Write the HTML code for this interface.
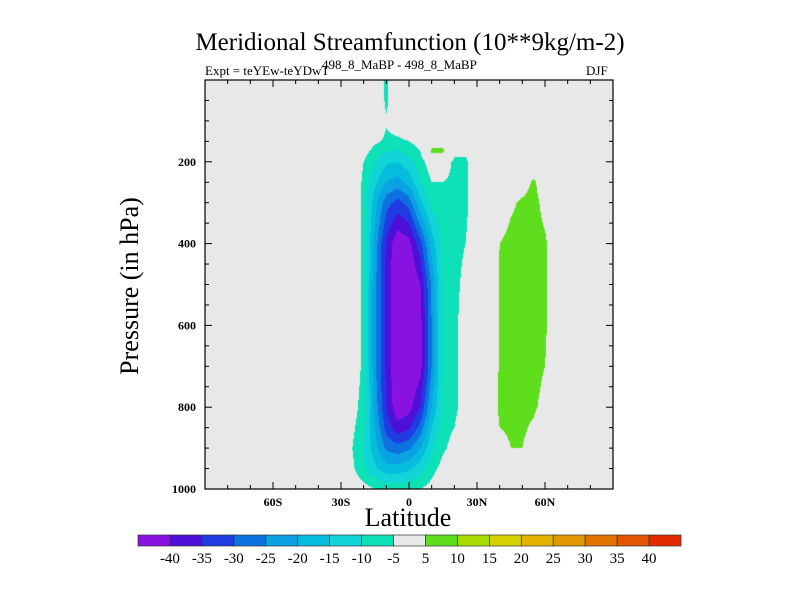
<!DOCTYPE html>
<html><head><meta charset="utf-8"><style>
body{margin:0;background:#fff;}
#wrap{position:relative;width:800px;height:600px;overflow:hidden;font-family:"Liberation Serif",serif;}
.t{position:absolute;white-space:nowrap;color:#000;}
</style></head><body>
<div id="wrap">
<div class="t" style="left:0;width:820px;text-align:center;top:29px;font-size:25px;">Meridional Streamfunction (10**9kg/m-2)</div>
<div class="t" style="left:205px;top:63px;font-size:13px;">Expt = teYEw-teYDwT</div>
<div class="t" style="left:322px;top:57px;font-size:13px;">498_8_MaBP - 498_8_MaBP</div>
<div class="t" style="left:586px;top:63px;font-size:13px;">DJF</div>
<div class="t" style="left:130px;top:286px;font-size:26px;transform:translate(-50%,-50%) rotate(-90deg);">Pressure (in hPa)</div>
<div class="t" style="left:0;width:816px;text-align:center;top:503px;font-size:26px;">Latitude</div>
<canvas id="cv" width="408" height="409" style="position:absolute;left:205px;top:80px;"></canvas>
<svg id="sv" width="800" height="600" style="position:absolute;left:0;top:0;"></svg>
</div>
<script>
const lats=[-30,-25,-20,-15,-10,-5,0,5,10,15,20,25,30,35,40,45,50,55,60,65];
const pressures=[0,50,100,150,175,200,250,300,400,500,600,700,800,850,900,950,1000];
const field=[
[0,0,0,0,-6,0,0,0,0,0,0,0,0,0,0,0,0,0,0,0],
[0,0,0,0,-6,0,0,0,0,0,0,0,0,0,0,0,0,0,0,0],
[0,0,0,0,-4.5,-2,0,0,0,0,0,0,0,0,0,0,0,0,0,0],
[0,0,-1,-4,-6,-6,-5,-3,3,3,0,0,0,0,0,0,0,0,0,0],
[0,0,-3,-7,-10,-11,-8,-5,6,6,-4,-4,-1,0,0,0,0,0,0,0],
[0,-1,-5,-10,-14,-15,-12,-7,-2,-2,-6,-6,-1,0,0,0,0,0,0,0],
[0,-1,-6,-14,-20,-22,-18,-10,-5,-5,-6,-6,-2,0,0,0,2,6,1,0],
[0,-2,-6,-18,-28,-32,-28,-16,-8,-6,-6,-6,-2,0,0,4,6,7,3,0],
[0,-2,-6,-22,-36,-44,-42,-32,-18,-8,-6,-5,-1,0,5,7,7,7,6,0],
[0,-2,-6,-24,-36,-46,-46,-40,-24,-8,-6,-4,-1,0,5.5,7,7,7,6,0],
[0,-1,-6,-24,-36,-46,-46,-42,-25,-8,-6,-3,-1,0,5.5,7,7,7,6,0],
[0,-2,-6,-24,-36,-46,-46,-42,-25,-8,-6,-3,-1,0,5.5,7,7,7,5,0],
[0,-3,-7,-22,-35,-44,-42,-35,-20,-8,-6,-3,0,0,6,7,7,6,3,0],
[0,-4,-8,-20,-32,-38,-36,-28,-15,-7,-5,-2,0,0,5,7,6,4,0,0],
[0,-5,-10,-18,-26,-28,-26,-20,-11,-6,-3,0,0,0,0,5,5,2,0,0],
[0,-4,-9,-14,-18,-18,-16,-12,-7,-3,0,0,0,0,0,0,0,0,0,0],
[0,-1,-3,-5,-6,-6,-6,-5,-3,0,0,0,0,0,0,0,0,0,0,0]];
const levels=[-40,-35,-30,-25,-20,-15,-10,-5,5,10,15,20,25,30,35,40];
const colors=["#8a12e0","#4c10d8","#1e3ce2","#0c72e0","#0aa2e2","#06bcdc","#10d4d8","#0ee0b8","#e8e8e8","#5ede1c","#a8dc00","#d6d200","#e2b400","#e29600","#e27400","#e25600","#e22c00"];
const latTicks=[-60,-30,0,30,60], latLabels=["60S","30S","0","30N","60N"];
const pTicks=[200,400,600,800,1000];
const X0=205,X1=613,Y0=80,Y1=489;
const xs=lat=>X0+(lat+90)/180*(X1-X0);
const ys=p=>Y0+p/1000*(Y1-Y0);
function hex(c){return [parseInt(c.substr(1,2),16),parseInt(c.substr(3,2),16),parseInt(c.substr(5,2),16)];}
const rgb=colors.map(hex);
function val(lat,p){
  if(lat<lats[0]||lat>lats[lats.length-1])return 0;
  let i=0;while(i<lats.length-2&&lat>lats[i+1])i++;
  let j=0;while(j<pressures.length-2&&p>pressures[j+1])j++;
  const tx=(lat-lats[i])/(lats[i+1]-lats[i]),ty=(p-pressures[j])/(pressures[j+1]-pressures[j]);
  const a=field[j][i],b=field[j][i+1],c=field[j+1][i],d=field[j+1][i+1];
  return (a*(1-tx)+b*tx)*(1-ty)+(c*(1-tx)+d*tx)*ty;
}
function idx(v){let k=0;while(k<levels.length&&v>=levels[k])k++;return k;}
const cv=document.getElementById('cv'),ctx=cv.getContext('2d');
const W=cv.width,H=cv.height,img=ctx.createImageData(W,H);
for(let y=0;y<H;y++)for(let x=0;x<W;x++){
  const lat=-90+(x+0.5)/W*180,p=(y+0.5)/H*1000;
  const c=rgb[idx(val(lat,p))];const o=(y*W+x)*4;
  img.data[o]=c[0];img.data[o+1]=c[1];img.data[o+2]=c[2];img.data[o+3]=255;}
ctx.putImageData(img,0,0);
const sv=document.getElementById('sv'),NS='http://www.w3.org/2000/svg';
function el(t,a){const e=document.createElementNS(NS,t);for(const k in a)e.setAttribute(k,a[k]);sv.appendChild(e);return e;}
const fr=el('rect',{x:X0,y:Y0,width:X1-X0,height:Y1-Y0,fill:'none',stroke:'#000','stroke-width':1.2});


for(let lat=-80;lat<=80;lat+=10){const x=xs(lat),L=(lat%30===0)?7:4;
  el('line',{x1:x,x2:x,y1:Y1,y2:Y1-L,stroke:'#000'});el('line',{x1:x,x2:x,y1:Y0,y2:Y0+L,stroke:'#000'});}
for(let p=50;p<1000;p+=50){const y=ys(p),L=(p%200===0)?7:4;
  el('line',{x1:X0,x2:X0+L,y1:y,y2:y,stroke:'#000'});el('line',{x1:X1,x2:X1-L,y1:y,y2:y,stroke:'#000'});}
latTicks.forEach((lat,i)=>{const t=el('text',{x:xs(lat),y:Y1+17,'text-anchor':'middle','font-size':12,'font-family':'Liberation Serif, serif','font-weight':'bold'});t.textContent=latLabels[i];
  
  });
pTicks.forEach(p=>{const t=el('text',{x:X0-9,y:ys(p)+4,'text-anchor':'end','font-size':12,'font-family':'Liberation Serif, serif','font-weight':'bold'});t.textContent=p;
  
  });
const CB0=138,CB1=681,CBY=535,CBH=11,bw=(CB1-CB0)/colors.length;
colors.forEach((c,i)=>{const r=el('rect',{x:CB0+i*bw,y:CBY,width:bw,height:CBH,fill:c,stroke:'#333','stroke-width':0.7});
  
  });
levels.forEach((v,i)=>{const t=el('text',{x:CB0+(i+1)*bw,y:CBY+28,'text-anchor':'middle','font-size':15,'font-family':'Liberation Serif, serif'});t.textContent=v;
  
  });
</script>
</body></html>
